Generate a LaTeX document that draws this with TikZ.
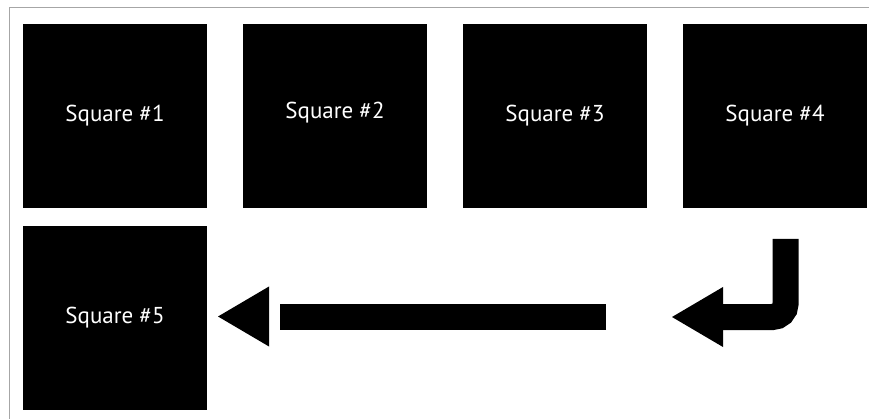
\documentclass[tikz,border=0pt]{standalone}
\usepackage{fontspec}
\setmainfont{PT Sans}
\usetikzlibrary{arrows.meta}

\begin{document}
\begin{tikzpicture}[
        x=1pt, y=-1pt,
        sq/.style={fill=black, minimum size=184pt, inner sep=0pt, text=white,
            font=\fontsize{23}{27}\selectfont},
        bar/.style={line width=26pt},
        bigarr/.style={bar, -{Triangle[length=51pt, width=60pt, line width=0pt]}}
    ]
        \useasboundingbox (0,0) rectangle (869,419);
        % frame
        \draw[black!35, line width=1pt] (9.5,419) -- (9.5,8) -- (869,8);
        % squares
        \node[sq] (sq1) at (115,116) {Square \#1};
        \node[sq, text depth=12pt] (sq2) at (335,116) {Square \#2};
        \node[sq] (sq3) at (555,116) {Square \#3};
        \node[sq] (sq4) at (775,116) {Square \#4};
        \node[sq] (sq5) at (115,318) {Square \#5};
        % arrows
        \coordinate (bendtop) at (785.5,239);
        \coordinate (bendtip) at (672,317);
        \coordinate (bartail) at (606,316.5);
        \coordinate (barhead) at (280,316.5);
        \coordinate (headbase) at (269,316.5);
        \coordinate (bartip) at (218,316.5);
        \draw[bigarr, rounded corners=13pt] (bendtop) |- (bendtip);
        \draw[bar] (bartail) -- (barhead);
        \draw[bigarr] (headbase) -- (bartip);
    \end{tikzpicture}
\end{document}
